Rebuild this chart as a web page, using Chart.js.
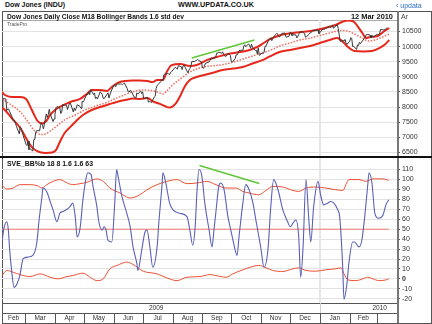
<!DOCTYPE html>
<html>
<head>
<meta charset="utf-8">
<script src="https://cdn.jsdelivr.net/npm/chart.js@4.4.1/dist/chart.umd.min.js"></script>
<style>
  html, body { margin: 0; padding: 0; background: #fff; }
  #wrap { position: relative; width: 432px; height: 324px; overflow: hidden;
          font-family: 'Liberation Sans', Arial, sans-serif; color: #111; }
  .t { position: absolute; white-space: nowrap; line-height: 1; transform-origin: 0 0; }
  .b { font-weight: bold; }
  canvas { position: absolute; }
  .ln { position: absolute; }
</style>
</head>
<body>
<div id="wrap">
  <div class="ln" style="left:2px;top:11px;width:428px;height:311px;border:1px solid #555;"></div>
  <div class="ln" style="left:3px;top:20px;width:394px;height:1px;background:#aaa;"></div>

  <canvas id="priceChart" width="430" height="136" style="left:2px;top:20px;"></canvas>
  <canvas id="pctbChart" width="430" height="166" style="left:2px;top:158px;"></canvas>

  <div class="ln" style="left:397px;top:11px;width:2px;height:312px;background:#777;"></div>
  <div class="ln" style="left:0px;top:156px;width:432px;height:2px;background:#111;"></div>

  <div class="t b" data-w="60" style="left:5px;top:1px;font-size:8px;">Dow Jones (INDU)</div>
  <div class="t b" data-w="76" style="left:178px;top:1px;font-size:8px;">WWW.UPDATA.CO.UK</div>
  <div class="t" style="left:396px;top:1.5px;font-size:7px;color:#2f6fc8;">&#8249; updata</div>

  <div class="t b" data-w="177" style="left:7px;top:12.5px;font-size:7.5px;">Dow Jones Daily Close M18 Bollinger Bands 1.6 std dev</div>
  <div class="t b" data-w="42" style="left:351px;top:12.5px;font-size:7.5px;">12 Mar 2010</div>
  <div class="t" style="left:401px;top:12.5px;font-size:7px;color:#444;">Ar</div>
  <div class="t" data-w="20" style="left:7px;top:22px;font-size:5px;color:#555;">TradePro</div>
  <div class="t b" data-w="86" style="left:7px;top:159.5px;font-size:7.5px;">SVE_BB%b 18 8 1.6 1.6 63</div>
</div>

<script>
// squeeze the condensed header texts to their widths
document.querySelectorAll('.t[data-w]').forEach(el => {
  const w = el.getBoundingClientRect().width
  el.style.transform = 'scaleX(' + (Number(el.dataset.w) / w) + ')'
})

// x values are calendar days counted from 1 Feb 2009

// Dow Jones daily close
const closeDay = [
  4,5,8,9,10,11,12,16,17,18,19,22,23,24,25,26,
  29,30,31,32,33,36,37,38,39,40,43,44,45,46,47,50,51,52,53,54,57,58,
  59,60,61,64,65,66,67,71,72,73,74,75,78,79,80,81,82,85,86,87,88,
  89,92,93,94,95,96,99,100,101,102,103,106,107,108,109,110,114,115,116,117,
  120,121,122,123,124,127,128,129,130,131,134,135,136,137,138,141,142,143,144,145,148,149,
  150,151,155,156,157,158,159,162,163,164,165,166,169,170,171,172,173,176,177,178,179,180,
  183,184,185,186,187,190,191,192,193,194,197,198,199,200,201,204,205,206,207,208,211,
  212,213,214,215,219,220,221,222,225,226,227,228,229,232,233,234,235,236,239,240,241,
  242,243,246,247,248,249,250,253,254,255,256,257,260,261,262,263,264,267,268,269,270,271,
  274,275,276,277,278,281,282,283,284,285,288,289,290,291,292,295,296,297,299,302,
  303,304,305,306,309,310,311,312,313,316,317,318,319,320,323,324,325,326,330,331,332,333,
  337,338,339,340,341,344,345,346,347,348,352,353,354,355,358,359,360,361,362,
  365,366,367,368,369,372,373,374,375,376,380,381,382,383,386,387,388,389,390,
  393,394,395,396,397,400,401,402,403,404
]
const closeVal = [
  8000,8281,8270,7889,7939,7933,7850,7553,7556,7466,7366,7115,7351,7271,7183,7063,
  6763,6726,6876,6594,6627,6547,6926,6930,7170,7224,7217,7395,7486,7400,7278,7776,7660,7750,7924,7776,7522,7609,
  7761,7978,8018,7975,7789,7837,8083,8058,7920,8029,8125,8131,7841,7969,7886,7957,8076,8025,7957,8185,8168,
  8212,8426,8410,8512,8409,8575,8418,8469,8284,8331,8268,8504,8474,8422,8292,8277,8473,8300,8403,8500,
  8721,8740,8675,8750,8764,8764,8763,8739,8770,8799,8612,8505,8497,8555,8540,8339,8323,8299,8472,8438,8529,8447,
  8505,8280,8324,8163,8179,8183,8146,8332,8359,8616,8712,8743,8848,8916,8882,9069,9093,9108,9097,9070,9154,9171,
  9286,9320,9280,9256,9370,9337,9241,9362,9398,9321,9135,9217,9279,9350,9505,9509,9539,9543,9580,9544,9496,
  9310,9280,9345,9441,9497,9547,9627,9605,9626,9683,9791,9783,9820,9779,9829,9748,9707,9666,9789,9742,9712,
  9509,9487,9599,9731,9725,9786,9865,9885,9871,10015,10062,9996,10092,10042,9949,10081,9972,9868,9882,9762,9962,9712,
  9789,9771,9802,10005,10023,10227,10247,10291,10197,10270,10406,10437,10427,10333,10318,10450,10434,10464,10310,10345,
  10472,10452,10366,10388,10390,10286,10338,10405,10471,10501,10452,10441,10309,10329,10414,10464,10466,10520,10547,10545,10548,10428,
  10584,10573,10574,10607,10618,10663,10628,10680,10711,10610,10725,10604,10389,10173,10196,10194,10236,10120,10067,
  10185,10297,10271,10002,10013,9908,10058,10038,10144,10099,10268,10309,10393,10402,10383,10283,10374,10321,10325,
  10404,10405,10396,10444,10566,10552,10564,10568,10611,10625
]

// Bollinger bands (upper, middle, lower)
const upperDay = [4,7,14,23,29,33,37,41,46,50,54,59,66,75,85,92,97,106,113,118,124,132,139,147,155,160,165,171,175,180,189,199,206,217,227,241,251,261,269,275,282,292,306,324,337,350,357,363,369,373,378,382,386,394,401,406]
const upperVal = [8500,8400,8335,8335,8270,8040,7770,7540,7460,7540,7740,7905,8040,8170,8270,8435,8565,8565,8535,8665,8800,8865,8880,8880,8865,8830,8895,8895,9160,9390,9425,9360,9390,9560,9655,9775,9820,9890,9990,10105,10250,10370,10450,10515,10600,10715,10815,10865,10830,10680,10450,10285,10320,10350,10515,10615]
const midDay = [4,12,23,31,37,44,49,54,61,69,80,90,101,111,121,132,142,150,158,165,171,176,181,189,199,209,220,230,241,251,261,272,282,292,303,313,324,334,344,355,363,370,378,384,391,399,406]
const midVal = [8270,8105,7840,7510,7245,7095,7110,7210,7375,7575,7740,7905,8035,8135,8270,8415,8530,8565,8550,8500,8435,8565,8730,8930,9160,9295,9360,9390,9460,9560,9655,9775,9870,10020,10120,10220,10285,10370,10450,10535,10515,10415,10285,10185,10220,10320,10415]
const lowerDay = [4,7,14,23,30,35,41,49,56,60,64,69,75,82,88,97,106,116,123,132,140,147,155,161,168,173,178,184,189,194,199,206,220,233,244,254,264,275,282,292,303,313,324,334,344,352,358,363,370,379,388,396,402,406]
const lowerVal = [7990,7905,7640,7310,6915,6680,6535,6485,6500,6580,6845,7145,7345,7575,7740,7905,8005,8105,8170,8235,8285,8270,8300,8185,8105,8035,7985,8105,8370,8700,8895,8995,9110,9225,9275,9325,9440,9560,9675,9820,9890,9955,10020,10120,10220,10285,10155,9990,9855,9840,9855,9955,10090,10220]

// divergence trend lines
const trendPriceDay = [201, 266]
const trendPriceVal = [9625, 10220]
const trendPctbDay = [209, 271]
const trendPctbVal = [114, 96]

// SVE %b oscillator and its bands
const pctbDay = [4,6,9,10.5,12,14,16.5,19.5,22.5,26,31,36,40,42.5,45.5,46.5,51,54,57,61,64,67,71.5,74.5,77.5,80,82,85,88,91,93,96.5,98.5,102.5,104.5,108,110,112,114,118,121,123,124.5,128.5,132.5,137,140,144,145,149,152.5,154.5,157.5,160.5,165,167,170,171,174,178,181.5,188.5,196,199,202,204.5,206.5,208.5,211.5,214.5,219,222,224,226,229,231,234.5,238.5,241.5,244.5,248,250,254,257,260.5,264.5,267.5,272.5,276,280,283,286,290.5,295.5,300.5,303,307,309,312,314,316.5,319.5,322.5,324.5,327.5,332,335,338,342,345,348.5,352.5,354.5,357.5,359,362,364,368,370,374.5,377.5,380.5,383.5,385,388,391,395,399.5,402.5,405.5]
const pctbVal = [37,51,57.5,50,29,8.5,-8.5,-5,3.4,20.4,22,23.7,35.6,59.3,82.9,91.4,86.4,77.8,69.4,57.5,66,67.7,70.1,72.7,76.2,62.6,42.3,50.8,79.6,99.9,106.7,104.9,93,72.7,57.5,49.1,52.5,49.1,38.9,37.2,76.2,110,103.2,82.9,69.4,52.5,32.2,15.3,8.5,28.8,47.4,49.1,32.2,11.8,32.2,59.3,93,106.7,96.5,76.2,69.4,66,62.6,49.1,33.9,52.5,89.7,110,103.2,76.2,49.1,32.2,49.1,67,93,96.5,89.7,62.6,49.1,35.6,23.7,42.3,76.2,94.8,89.7,76.2,59.3,32.2,11.8,28.8,72.7,99.9,89.7,69.4,57.5,52.5,57.5,59.3,42.3,1.7,32.2,99.9,59.3,37.2,72.7,98.1,82.9,74.5,76.2,77.8,76.2,69.4,62.6,15.3,-20.5,-5,15.3,37.2,37.2,32.2,38.9,62.6,93,106.7,96.5,66,61,64.3,74.5,79.6]
const bandHiDay = [4,9,15.5,22.5,33,40.5,45.5,50.5,57,64,71.5,77.5,85,92,102.5,109,116,126.5,137,147,154.5,165,175,185.5,196,206.5,216.5,226,236.5,247,254,260.5,270.5,278,285,295.5,306,312,319.5,330,340,350.5,358,361,364,374.5,381.5,389,399.5,405.5]
const bandHiVal = [94,90.4,91.4,94.8,94.8,93.8,91.4,94.8,98.1,99.9,96.5,94.8,95.8,97.1,100.6,98.1,91.4,86.4,81.3,84.6,89.7,94.8,98.1,99.9,95.8,96.5,98.1,94.8,91.4,91.4,88,86.4,84.6,89,93,92.4,89,88,91.4,92.4,91.4,89.7,89,94.8,99.9,99.9,98.1,100.6,100.6,99.1]
const bandLoDay = [4,9,15.5,22.5,33,43.5,54,62,71.5,77.5,88,95.5,102.5,109,116,123.5,133.5,140,150.5,165,175,185.5,196,209.5,220,226,236.5,243.5,254,264.5,270.5,278,285,295.5,306,312,319.5,330,340,350.5,356,359,363,371.5,378.5,383.5,389,395,402.5,405.5]
const bandLoVal = [3.4,8.5,6.8,4.4,2.4,5.1,1.7,0.1,2.4,3.4,5.8,1.7,-1.7,0.1,10.2,13.6,16.9,14.6,7.8,5.1,1.1,-1.7,1.7,2.4,4.4,3.4,1.7,5.1,9.2,12.6,13.6,11.2,8.5,7.5,10.2,11.2,8.5,7.8,9.2,10.2,11.2,5.1,-1,-1.7,0.1,1.7,0.1,-1.7,-1,0.1]
const centreDay = [4, 405.5]
const centreVal = [50, 50]

// axis ticks and calendar labels
const priceTicks = [6500, 7000, 7500, 8000, 8500, 9000, 9500, 10000, 10500]
const pctbTicks = [-20, -10, 0, 10, 20, 30, 40, 50, 60, 70, 80, 90, 100, 110]
const monthStarts = [28, 59, 89, 120, 150, 181, 212, 242, 273, 303, 334, 365, 393]
const monthNames = ['Feb', 'Mar', 'Apr', 'May', 'Jun', 'Jul', 'Aug', 'Sep', 'Oct', 'Nov', 'Dec', 'Jan', 'Feb', '']
const yearNames = ['2009', '2010']
const yearAt = [164, 396]
const yearStart = 334

const DAY_MIN = 4, DAY_MAX = 414

Chart.defaults.font.family = "'Liberation Sans', Arial, sans-serif"
Chart.defaults.font.size = 7

const pts = (xs, ys) => xs.map((x, i) => ({ x, y: ys[i] }))

const line = (xs, ys, color, width, extra) => Object.assign({
  data: pts(xs, ys),
  borderColor: color,
  borderWidth: width,
  pointRadius: 0,
  fill: false,
  tension: 0
}, extra || {})

const smooth = { cubicInterpolationMode: 'monotone' }

// light vertical gridline at the turn of the year
const yearLine = {
  id: 'yearLine',
  beforeDatasetsDraw(chart) {
    const { ctx, chartArea, scales } = chart
    const x = scales.x.getPixelForValue(yearStart)
    ctx.save()
    ctx.strokeStyle = '#e6e6e6'
    ctx.lineWidth = 2
    ctx.beginPath()
    ctx.moveTo(x, chartArea.top)
    ctx.lineTo(x, chartArea.bottom)
    ctx.stroke()
    ctx.restore()
  }
}

// year row + month row under the lower panel
const calendarAxis = {
  id: 'calendarAxis',
  afterDraw(chart) {
    const { ctx, chartArea, scales } = chart
    const xs = scales.x
    const top = chartArea.bottom
    const mid = top + 10
    const bot = top + 20
    const left = chartArea.left
    const right = chartArea.right

    ctx.save()
    ctx.strokeStyle = '#555'
    ctx.lineWidth = 1
    ctx.beginPath()
    ctx.moveTo(left, top + 0.5); ctx.lineTo(right, top + 0.5)
    ctx.moveTo(left, mid + 0.5); ctx.lineTo(right, mid + 0.5)
    ctx.stroke()

    // year divider
    const yx = Math.round(xs.getPixelForValue(yearStart)) + 0.5
    ctx.strokeStyle = '#ccc'
    ctx.beginPath()
    ctx.moveTo(yx, top); ctx.lineTo(yx, mid)
    ctx.stroke()

    ctx.fillStyle = '#333'
    ctx.font = "6.5px 'Liberation Sans', Arial, sans-serif"
    ctx.textBaseline = 'middle'
    ctx.textAlign = 'center'
    yearNames.forEach((name, i) => {
      ctx.fillText(name, xs.getPixelForValue(yearAt[i]), top + 5.5)
    })

    // month cells
    const edges = [DAY_MIN, ...monthStarts, DAY_MAX]
    ctx.strokeStyle = '#555'
    ctx.beginPath()
    monthStarts.forEach(d => {
      const x = Math.round(xs.getPixelForValue(d)) + 0.5
      ctx.moveTo(x, mid); ctx.lineTo(x, bot)
    })
    ctx.stroke()
    monthNames.forEach((name, i) => {
      const a = xs.getPixelForValue(edges[i])
      const b = xs.getPixelForValue(edges[i + 1])
      ctx.fillText(name, (a + b) / 2, mid + 5.5)
    })
    ctx.restore()
  }
}

function yAxis(min, max, ticks, boldZero) {
  return {
    position: 'right',
    min, max,
    afterBuildTicks: s => { s.ticks = ticks.map(v => ({ value: v })) },
    // fixed axis column, and no extra room reserved for the end labels
    afterFit: s => { s.width = 35; s.paddingTop = 0; s.paddingBottom = 0 },
    grid: { color: '#e3e3e3', lineWidth: 1, tickColor: '#555', tickLength: 3 },
    border: { display: false },
    ticks: {
      autoSkip: false,
      color: '#333',
      padding: 2,
      font: c => ({ size: 7, weight: (boldZero && c.tick && c.tick.value === 0) ? 'bold' : 'normal' }),
      callback: v => String(v)
    }
  }
}

const xAxis = { type: 'linear', min: DAY_MIN, max: DAY_MAX, display: false }

const common = {
  responsive: false,
  animation: false,
  devicePixelRatio: 1,
  events: [],
  plugins: { legend: { display: false }, tooltip: { enabled: false } }
}

new Chart(document.getElementById('priceChart'), {
  type: 'line',
  data: {
    datasets: [
      line(closeDay, closeVal, '#383838', 1),
      line(trendPriceDay, trendPriceVal, '#5fc636', 1.5),
      line(upperDay, upperVal, '#e5281b', 2, smooth),
      line(lowerDay, lowerVal, '#e5281b', 2, smooth),
      line(midDay, midVal, '#f06a5c', 1.5, Object.assign({ borderDash: [1.5, 1.5] }, smooth))
    ]
  },
  options: Object.assign({}, common, {
    layout: { padding: 0 },
    scales: { x: xAxis, y: yAxis(6384, 10880, priceTicks, false) }
  }),
  plugins: [yearLine]
})

new Chart(document.getElementById('pctbChart'), {
  type: 'line',
  data: {
    datasets: [
      line(trendPctbDay, trendPctbVal, '#5fc636', 1.5),
      line(pctbDay, pctbVal, '#5a61b5', 1.1, smooth),
      line(bandHiDay, bandHiVal, '#ec5133', 1, smooth),
      line(bandLoDay, bandLoVal, '#ec5133', 1, smooth),
      line(centreDay, centreVal, '#f07a70', 1)
    ]
  },
  options: Object.assign({}, common, {
    layout: { padding: { left: 0, right: 0, top: 0, bottom: 21 } },
    scales: { x: xAxis, y: yAxis(-24.2, 121.6, pctbTicks, true) }
  }),
  plugins: [yearLine, calendarAxis]
})
</script>
</body>
</html>
